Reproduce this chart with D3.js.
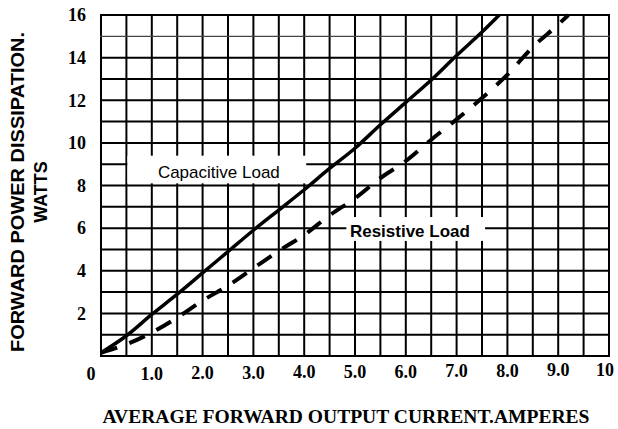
<!DOCTYPE html>
<html>
<head>
<meta charset="utf-8">
<script src="https://cdn.jsdelivr.net/npm/d3@7"></script>
<style>
  html, body { margin: 0; padding: 0; background: #fff; }
  svg { display: block; }
</style>
</head>
<body>
<div id="chart"></div>
<script>
// capacitive load curve (solid)
var capCurrent = [0, 0.5, 1, 1.5, 2, 2.5, 3, 3.5, 4, 4.5, 5, 5.5, 6, 6.5, 7, 7.5, 7.84];
var capPower   = [0.15, 0.95, 1.95, 2.9, 3.9, 4.9, 5.9, 6.85, 7.8, 8.8, 9.75, 10.85, 11.9, 12.95, 14.1, 15.2, 16];

// resistive load curve (dashed)
var resCurrent = [0, 0.5, 1, 1.5, 2, 2.5, 3, 3.5, 4, 4.5, 5, 5.5, 6, 6.5, 7, 7.5, 8, 8.5, 9, 9.2];
var resPower   = [0.15, 0.55, 1.1, 1.8, 2.6, 3.3, 4.12, 4.93, 5.68, 6.6, 7.4, 8.35, 9.15, 10.15, 11.1, 12.1, 13.2, 14.5, 15.55, 16];

var xTicks = [0, 1, 2, 3, 4, 5, 6, 7, 8, 9, 10],
    xTickLabels = ["0", "1.0", "2.0", "3.0", "4.0", "5.0", "6.0", "7.0", "8.0", "9.0", "10"];
var yTicks = [2, 4, 6, 8, 10, 12, 14, 16];

var width = 618, height = 429;
var margin = {top: 15, right: 9, bottom: 73, left: 101};

var svg = d3.select("#chart").append("svg")
    .attr("width", width)
    .attr("height", height);

var x = d3.scaleLinear().domain([0, 10]).range([margin.left, width - margin.right]);
var y = d3.scaleLinear().domain([0, 16]).range([height - margin.bottom, margin.top]);

// grid
var grid = svg.append("g").attr("stroke", "#000");
grid.selectAll(".vl")
  .data(d3.range(0, 10.01, 0.5))
  .enter().append("line")
    .attr("x1", function(d) { return x(d); })
    .attr("x2", function(d) { return x(d); })
    .attr("y1", y(0)).attr("y2", y(16))
    .attr("stroke-width", 2);
grid.selectAll(".hl")
  .data(d3.range(0, 16.01, 1))
  .enter().append("line")
    .attr("x1", x(0) - 1).attr("x2", x(10) + 1)
    .attr("y1", function(d) { return y(d); })
    .attr("y2", function(d) { return y(d); })
    .attr("stroke-width", function(d) { return d == 15 ? 1.2 : 2; })
    .attr("stroke", function(d) { return d == 15 ? "#444" : "#000"; });

// label boxes knock out the grid
function labelBox(x0, x1, y0, y1) {
  svg.append("rect")
    .attr("x", x(x0)).attr("y", y(y0))
    .attr("width", x(x1) - x(x0)).attr("height", y(y1) - y(y0))
    .attr("fill", "#fff");
}
labelBox(0.52, 4.04, 9.4, 8.1);
labelBox(4.83, 7.56, 6.52, 5.4);

var line = d3.line()
    .x(function(d) { return x(d[0]); })
    .y(function(d) { return y(d[1]); })
    .curve(d3.curveMonotoneX);

svg.append("path")
    .datum(d3.zip(resCurrent, resPower))
    .attr("d", line)
    .attr("fill", "none")
    .attr("stroke", "#000")
    .attr("stroke-width", 4)
    .attr("stroke-dasharray", "17,13");

svg.append("path")
    .datum(d3.zip(capCurrent, capPower))
    .attr("d", line)
    .attr("fill", "none")
    .attr("stroke", "#000")
    .attr("stroke-width", 3.5);

// curve labels
svg.append("text")
    .attr("x", x(1.12)).attr("y", y(8.35))
    .attr("font-family", "Liberation Sans, Arial, sans-serif")
    .attr("font-size", 17)
    .text("Capacitive Load");
svg.append("text")
    .attr("x", x(4.9)).attr("y", y(5.58))
    .attr("font-family", "Liberation Sans, Arial, sans-serif")
    .attr("font-weight", "bold")
    .attr("font-size", 17)
    .text("Resistive Load");

// tick labels
svg.append("g")
    .attr("font-family", "Liberation Serif, Times New Roman, serif")
    .attr("font-weight", "bold")
    .attr("font-size", 18)
    .attr("text-anchor", "middle")
  .selectAll("text")
  .data(xTicks)
  .enter().append("text")
    .attr("x", function(d, i) { return d == 0 ? x(d) - 10 : x(d) - (d == 10 ? 4 : 0); })
    .attr("y", function(d) { return y(0) + 24 - d * 0.4; })
    .text(function(d, i) { return xTickLabels[i]; });

svg.append("g")
    .attr("font-family", "Liberation Serif, Times New Roman, serif")
    .attr("font-weight", "bold")
    .attr("font-size", 18)
    .attr("text-anchor", "end")
  .selectAll("text")
  .data(yTicks)
  .enter().append("text")
    .attr("x", 86)
    .attr("y", function(d) { return y(d); })
    .attr("dy", "0.35em")
    .text(function(d) { return d; });

// axis titles
svg.append("text")
    .attr("x", 346).attr("y", 423)
    .attr("text-anchor", "middle")
    .attr("font-family", "Liberation Serif, Times New Roman, serif")
    .attr("font-weight", "bold")
    .attr("font-size", 18)
    .attr("textLength", 487)
    .attr("lengthAdjust", "spacingAndGlyphs")
    .text("AVERAGE FORWARD OUTPUT CURRENT.AMPERES");

var yt = svg.append("g")
    .attr("transform", "translate(24,192) rotate(-90)")
    .attr("font-family", "Liberation Sans, Arial, sans-serif")
    .attr("font-weight", "bold")
    .attr("font-size", 18)
    .attr("text-anchor", "middle");
yt.append("text")
    .attr("x", 0).attr("y", 0)
    .attr("textLength", 320)
    .attr("lengthAdjust", "spacingAndGlyphs")
    .text("FORWARD POWER DISSIPATION.");
yt.append("text")
    .attr("x", 0).attr("y", 23)
    .text("WATTS");
</script>
</body>
</html>
